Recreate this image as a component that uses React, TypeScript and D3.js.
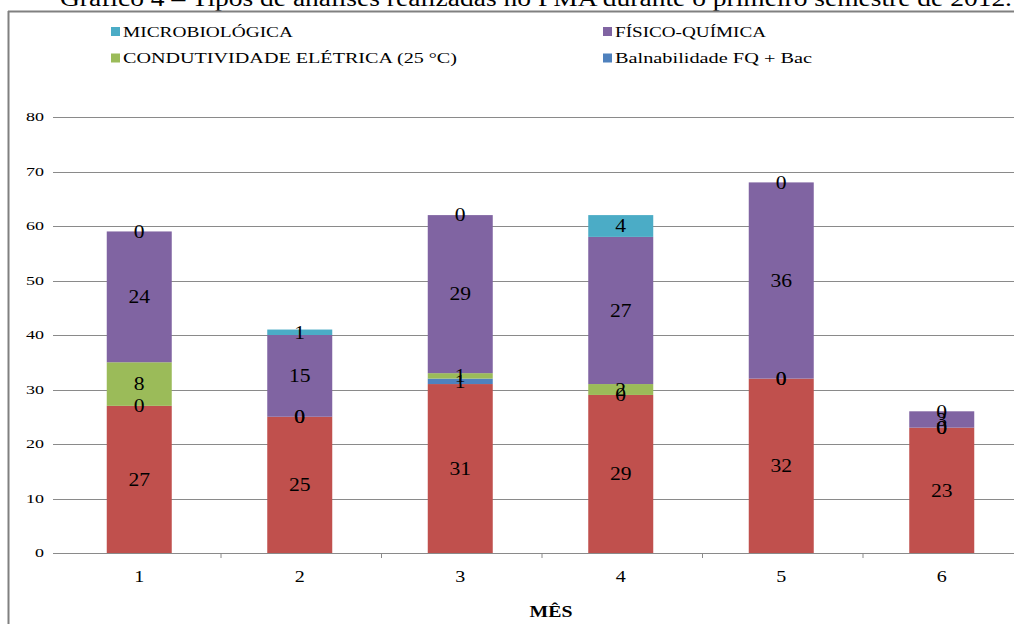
import React from "react";
import * as d3 from "d3";

const months = ["1", "2", "3", "4", "5", "6"];
const bacteriologica = [27, 25, 31, 29, 32, 23];
const balnabilidade = [0, 0, 1, 0, 0, 0];
const condutividade = [8, 0, 1, 2, 0, 0];
const fisicoQuimica = [24, 15, 29, 27, 36, 3];
const microbiologica = [0, 1, 0, 4, 0, 0];
const yTicks = [0, 10, 20, 30, 40, 50, 60, 70, 80];

const seriesDefs = [
  { key: "bac", name: "BACTERIOLÓGICA", values: bacteriologica, color: "#C0504D" },
  { key: "bal", name: "Balnabilidade  FQ + Bac", values: balnabilidade, color: "#4F81BD" },
  { key: "con", name: "CONDUTIVIDADE ELÉTRICA (25 °C)", values: condutividade, color: "#9BBB59" },
  { key: "fq", name: "FÍSICO-QUÍMICA", values: fisicoQuimica, color: "#8064A2" },
  { key: "mic", name: "MICROBIOLÓGICA", values: microbiologica, color: "#4BACC6" },
];

const legendItems = [
  { key: "mic", x: 111, y: 31.5, tl: 170 },
  { key: "fq", x: 603, y: 31.5, tl: 151 },
  { key: "con", x: 111, y: 58, tl: 334 },
  { key: "bal", x: 603, y: 58, tl: 197 },
];

const FONT = "Liberation Serif, Times New Roman, serif";
const GRID = "#8a8a8a";

const ST = ({ x, y, sx, size, anchor = "middle", weight = "normal", children }: any) => (
  <text
    transform={`translate(${x},${y}) scale(${sx},1)`}
    textAnchor={anchor}
    dominantBaseline="central"
    style={{ fontFamily: FONT, fontSize: size, fontWeight: weight }}
    fill="#000"
  >
    {children}
  </text>
);

export default function App() {
  const W = 1014;
  const H = 624;
  const band = d3.scaleBand<string>().domain(months).range([59, 1022]);
  const y = d3.scaleLinear().domain([0, 80]).range([553, 117]);

  const table = months.map((m, i) => {
    const row: any = { month: m };
    seriesDefs.forEach((s) => (row[s.key] = s.values[i]));
    return row;
  });
  const stack = d3.stack<any>().keys(seriesDefs.map((s) => s.key))(table);
  const cx = (m: string) => (band(m) as number) + band.bandwidth() / 2;

  return (
    <svg width={W} height={H} style={{ position: "absolute", left: 0, top: 0, background: "#fff" }}>
      <rect x={0} y={0} width={W} height={H} fill="#fff" />
      {/* title (cut at top) */}
      <text
        x={60}
        y={6}
        style={{ fontFamily: FONT, fontSize: 24 }}
        textLength={952}
        lengthAdjust="spacingAndGlyphs"
        fill="#000"
      >
        Gráfico 4 – Tipos de análises realizadas no PMA durante o primeiro semestre de 2012.
      </text>
      {/* frame */}
      <line x1={8.5} x2={8.5} y1={11} y2={H} stroke="#808080" strokeWidth={2} />
      <line x1={8} x2={W} y1={11.5} y2={11.5} stroke="#808080" strokeWidth={2} />

      {/* gridlines */}
      {yTicks.map((t) => (
        <line key={t} x1={53} x2={W} y1={Math.round(y(t)) + 0.5} y2={Math.round(y(t)) + 0.5} stroke={GRID} strokeWidth={1} />
      ))}
      {yTicks.map((t) => (
        <ST key={"yl" + t} x={44} y={y(t)} sx={1.5} size={12} anchor="end">
          {t}
        </ST>
      ))}

      {/* bars */}
      {stack.map((layer, si) => (
        <g key={layer.key} fill={seriesDefs[si].color}>
          {layer.map((d, i) => (
            <rect key={i} x={cx(months[i]) - 32.5} width={65} y={y(d[1])} height={y(d[0]) - y(d[1])} />
          ))}
        </g>
      ))}

      {/* x axis ticks */}
      {months.slice(1).map((m) => (
        <line key={"t" + m} x1={(band(m) as number) + 1.5} x2={(band(m) as number) + 1.5} y1={553} y2={558} stroke={GRID} />
      ))}
      {months.map((m) => (
        <ST key={"xl" + m} x={cx(m)} y={576} sx={1.18} size={17}>
          {m}
        </ST>
      ))}
      <ST x={551} y={612} sx={1.24} size={16} weight="bold">
        MÊS
      </ST>

      {/* data labels */}
      {stack.map((layer, si) => (
        <g key={"lab" + layer.key}>
          {layer.map((d, i) => (
            <ST key={i} x={cx(months[i])} y={y((d[0] + d[1]) / 2)} sx={1.2} size={18}>
              {seriesDefs[si].values[i]}
            </ST>
          ))}
        </g>
      ))}

      {/* legend */}
      {legendItems.map((li) => {
        const s = seriesDefs.find((d) => d.key === li.key)!;
        return (
          <g key={li.key}>
            <rect x={li.x} y={li.y - 4.5} width={9} height={9} fill={s.color} />
            <text
              x={li.x + 12}
              y={li.y}
              dominantBaseline="central"
              style={{ fontFamily: FONT, fontSize: 15 }}
              textLength={li.tl}
              lengthAdjust="spacingAndGlyphs"
              fill="#000"
            >
              {s.name}
            </text>
          </g>
        );
      })}
    </svg>
  );
}
